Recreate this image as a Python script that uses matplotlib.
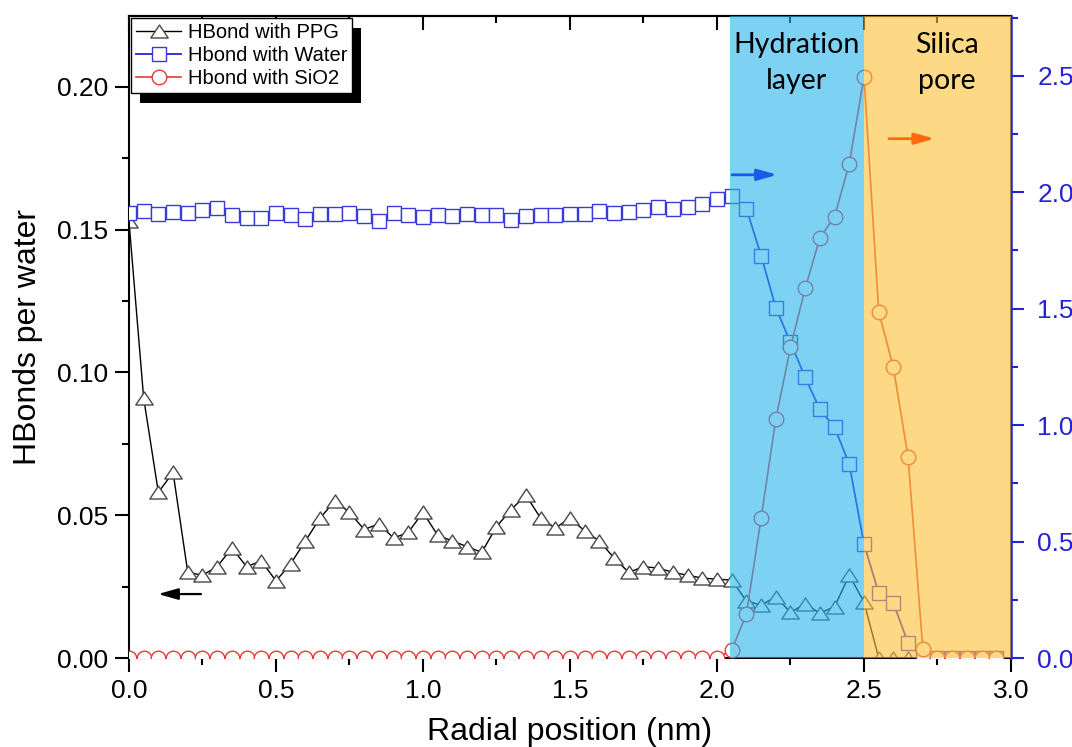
import numpy as np
import matplotlib.pyplot as plt
from matplotlib.patches import Rectangle
from matplotlib.path import Path
from matplotlib.transforms import IdentityTransform
from matplotlib.ticker import MultipleLocator, FormatStrFormatter

plt.rcParams['font.family'] = ['Liberation Sans', 'DejaVu Sans']

# radial bins (nm)
r = np.round(np.arange(0, 3.0, 0.05), 2)

# HBonds per water with PPG (left axis)
ppg = [0.153, 0.091, 0.058, 0.065, 0.030, 0.029, 0.032, 0.0385, 0.032, 0.034,
       0.027, 0.033, 0.041, 0.049, 0.055, 0.051, 0.045, 0.047, 0.042, 0.044,
       0.051, 0.043, 0.041, 0.039, 0.037, 0.046, 0.052, 0.057, 0.049, 0.0455,
       0.049, 0.0445, 0.041, 0.035, 0.030, 0.032, 0.0315, 0.030, 0.029, 0.028,
       0.0276, 0.0273, 0.020, 0.0185, 0.0215, 0.016, 0.019, 0.0157, 0.018, 0.029,
       0.0196, 0, 0, 0, 0, 0, 0, 0, 0, 0]

# HBonds with water (right axis)
water = [1.913, 1.921, 1.908, 1.917, 1.913, 1.925, 1.934, 1.904, 1.891, 1.891,
         1.913, 1.904, 1.887, 1.908, 1.908, 1.913, 1.900, 1.878, 1.913, 1.904,
         1.895, 1.904, 1.900, 1.908, 1.904, 1.904, 1.883, 1.900, 1.904, 1.904,
         1.908, 1.908, 1.921, 1.913, 1.917, 1.925, 1.938, 1.930, 1.938, 1.951,
         1.973, 1.985, 1.930, 1.728, 1.505, 1.355, 1.205, 1.068, 0.991, 0.832,
         0.489, 0.279, 0.236, 0.064, 0, 0, 0, 0, 0, 0]

# HBonds with SiO2 (right axis)
sio2 = [0] * 41 + [0.034, 0.189, 0.600, 1.025, 1.334, 1.587, 1.805, 1.895,
                   2.123, 2.496, 1.488, 1.248, 0.862, 0.039] + [0] * 5

blue = '#2424d4'
red = '#e23c3c'

fig = plt.figure(figsize=(10.72, 7.47), dpi=100)
ax = fig.add_axes([0.1203, 0.1191, 0.8228, 0.8595])
ax2 = ax.twinx()

# wide, flat triangle marker
tri = Path([(0, 0.75), (-1, -0.75), (1, -0.75), (0, 0.75)],
           [Path.MOVETO, Path.LINETO, Path.LINETO, Path.CLOSEPOLY])
l1, = ax.plot(r, ppg, color='black', lw=1, marker=tri, ms=12.5, mfc='white',
              mec='#474747', mew=1, label='HBond with PPG')
l2, = ax2.plot(r, water, color=blue, lw=1.3, marker='s', ms=9.5, mfc='white',
               mec='#3a3ad8', mew=1, label='Hbond with Water')
l3, = ax2.plot(r, sio2, color=red, lw=1.2, marker='o', ms=10.5, mfc='white',
               mec=red, mew=1, label='Hbond with SiO2')

# translucent region shading over everything
ax2.axvspan(2.045, 2.5, color=(38/255, 180/255, 238/255), alpha=0.6, lw=0, zorder=3)
ax2.axvspan(2.5, 3.0, color=(252/255, 192/255, 52/255), alpha=0.6, lw=0, zorder=3)

ax2.text(0.757, 0.927, 'Hydration\nlayer', transform=ax2.transAxes, ha='center', va='center',
         fontsize=20.5, family=['Lato', 'DejaVu Sans'], linespacing=1.45, zorder=6)
ax2.text(0.927, 0.927, 'Silica\npore', transform=ax2.transAxes, ha='center', va='center',
         fontsize=20.5, family=['Lato', 'DejaVu Sans'], linespacing=1.45, zorder=6)

# direction arrows
arr = '-|>,head_length=0.6,head_width=0.17'
ax.annotate('', xy=(0.099, 0.0224), xytext=(0.245, 0.0224),
            arrowprops=dict(arrowstyle=arr, color='black', lw=1.6, mutation_scale=20,
                            shrinkA=0, shrinkB=0))
ax2.annotate('', xy=(2.205, 2.075), xytext=(2.051, 2.075), zorder=6,
             arrowprops=dict(arrowstyle=arr, color='#1a5ae6', lw=2, mutation_scale=20,
                             shrinkA=0, shrinkB=0))
ax2.annotate('', xy=(2.74, 2.23), xytext=(2.585, 2.23), zorder=6,
             arrowprops=dict(arrowstyle=arr, color='#ff6a10', lw=2, mutation_scale=20,
                             shrinkA=0, shrinkB=0))

# axes
ax.set_xlim(0, 3.0)
ax.set_ylim(0, 0.2248)
ax2.set_ylim(0, 2.757)
ax.xaxis.set_major_locator(MultipleLocator(0.5))
ax.xaxis.set_minor_locator(MultipleLocator(0.25))
ax.xaxis.set_major_formatter(FormatStrFormatter('%.1f'))
ax.yaxis.set_major_locator(MultipleLocator(0.05))
ax.yaxis.set_minor_locator(MultipleLocator(0.025))
ax.yaxis.set_major_formatter(FormatStrFormatter('%.2f'))
ax2.yaxis.set_major_locator(MultipleLocator(0.5))
ax2.yaxis.set_minor_locator(MultipleLocator(0.25))
ax2.yaxis.set_major_formatter(FormatStrFormatter('%.1f'))

ax.tick_params(which='major', length=10, width=1.5, labelsize=19, pad=5)
ax.tick_params(which='minor', length=5, width=1.5)
ax2.tick_params(which='major', length=9, width=1.5, labelsize=19, pad=10,
                colors=blue)
ax2.tick_params(which='minor', length=5, width=1.5, colors=blue)

top = ax.secondary_xaxis('top')
top.xaxis.set_major_locator(MultipleLocator(0.5))
top.xaxis.set_minor_locator(MultipleLocator(0.25))
top.tick_params(which='major', direction='in', length=10, width=1.5, labeltop=False)
top.tick_params(which='minor', direction='in', length=5, width=1.5)
top.spines['top'].set_linewidth(1.5)

for s in ax.spines.values():
    s.set_linewidth(1.5)
for s in ['left', 'top', 'bottom']:
    ax2.spines[s].set_visible(False)
ax2.spines['right'].set_color(blue)
ax2.spines['right'].set_linewidth(1.8)

ax.set_xlabel('Radial position (nm)', fontsize=23, labelpad=10)
ax.set_ylabel('HBonds per water', fontsize=23, labelpad=10)

leg = ax2.legend(handles=[l1, l2, l3], loc='upper left', bbox_to_anchor=(0, 1),
                 fontsize=14.5, fancybox=False, framealpha=1, edgecolor='black',
                 borderaxespad=0.12, borderpad=0.25, handlelength=2.2,
                 handletextpad=0.35, labelspacing=0.18)
leg.get_frame().set_linewidth(1)
leg.set_zorder(8)

# offset black shadow behind the legend box
fig.canvas.draw()
bb = leg.get_window_extent()
shadow = Rectangle((bb.x0 + 9, bb.y0 - 10), bb.width, bb.height, transform=IdentityTransform(),
                   facecolor='black', edgecolor='none', zorder=7.9, clip_on=False)
ax2.add_artist(shadow)

fig.savefig('out.png', dpi=100)
